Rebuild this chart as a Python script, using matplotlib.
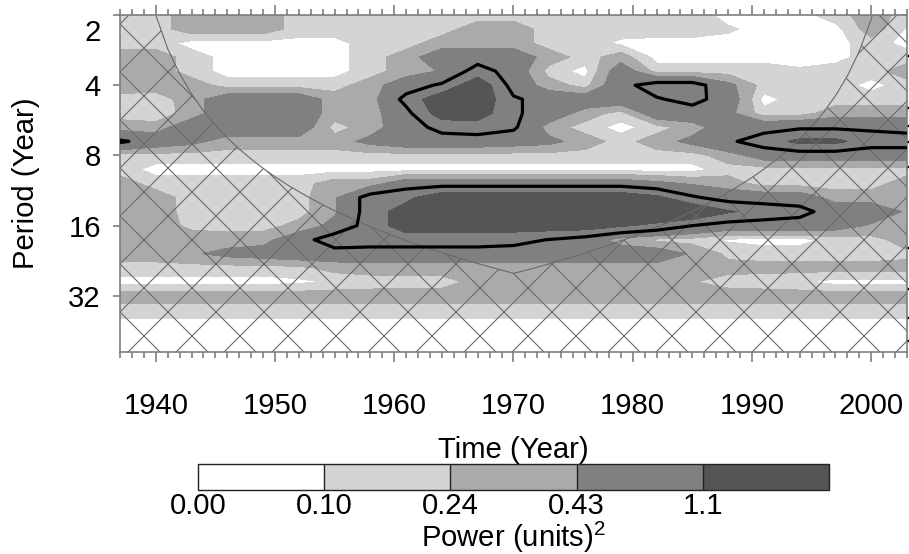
import numpy as np
import matplotlib
matplotlib.use("Agg")
import matplotlib.pyplot as plt
from matplotlib.ticker import NullLocator, FixedLocator
from matplotlib.transforms import ScaledTranslation

# ---------------- data ----------------
years = np.arange(1937, 2004, 3)                 # 23 time columns
period_octaves = np.linspace(1.0, 5.8, 25)       # log2(period) grid rows
periods = 2.0 ** period_octaves

# wavelet power (rows = periods from 2 yr downward, columns = years)
power = np.array([
    [.17,.17,.33,.33,.33,.17,.17,.17,.17,.17,.17,.17,.17,.17,.17,.17,.17,.05,.05,.05,.17,.33,.17],
    [.17,.17,.33,.33,.33,.17,.17,.17,.17,.17,.33,.33,.17,.17,.17,.17,.17,.12,.05,.05,.05,.33,.08],
    [.17,.17,.05,.05,.05,.05,.05,.17,.17,.33,.33,.33,.17,.17,.07,.05,.05,.05,.05,.05,.05,.17,.05],
    [.33,.33,.17,.05,.05,.05,.05,.17,.33,.60,.60,.60,.33,.17,.33,.05,.05,.05,.05,.05,.05,.17,.17],
    [.33,.33,.17,.05,.05,.05,.05,.17,.33,.45,.90,.60,.17,.05,.60,.17,.17,.17,.17,.12,.17,.17,.33],
    [.33,.33,.33,.17,.17,.17,.17,.33,.60,.80,1.4,.60,.33,.17,.65,.90,.90,.50,.17,.17,.17,.05,.17],
    [.17,.15,.33,.60,.60,.60,.33,.33,.85,1.4,1.4,.80,.60,.60,.60,.72,.85,.60,.05,.17,.17,.17,.17],
    [.17,.12,.33,.60,.60,.60,.33,.33,.65,1.3,1.3,.80,.60,.33,.17,.60,.60,.50,.15,.17,.33,.33,.33],
    [.33,.33,.60,.60,.60,.60,.17,.33,.60,.85,.90,.80,.33,.17,.05,.17,.33,.60,.65,.70,.70,.70,.65],
    [.80,.60,.50,.33,.33,.33,.33,.50,.60,.60,.60,.55,.50,.33,.17,.33,.50,.70,.90,1.2,1.2,.90,.90],
    [.17,.17,.17,.17,.17,.17,.17,.17,.17,.17,.17,.17,.17,.17,.17,.17,.17,.33,.55,.55,.55,.55,.55],
    [.17,.05,.05,.05,.05,.05,.05,.05,.05,.05,.05,.05,.05,.05,.05,.05,.05,.17,.17,.17,.17,.17,.17],
    [.33,.17,.17,.17,.17,.17,.33,.33,.60,.60,.60,.60,.60,.60,.60,.50,.40,.33,.17,.17,.17,.17,.33],
    [.33,.33,.17,.17,.17,.17,.40,.90,1.0,1.4,1.4,1.4,1.4,1.4,1.4,1.2,.80,.60,.60,.60,.33,.33,.33],
    [.33,.33,.17,.17,.17,.17,.40,.90,1.3,1.5,1.5,1.5,1.5,1.5,1.5,1.5,1.5,1.15,.95,.85,.60,.60,.40],
    [.33,.33,.20,.17,.17,.30,.50,.90,1.3,1.3,1.3,1.3,1.3,1.3,1.15,1.0,.75,.60,.60,.60,.55,.40,.33],
    [.33,.33,.33,.33,.35,.60,.95,.90,.90,.90,.90,.85,.74,.60,.33,.20,.17,.08,.05,.05,.15,.17,.33],
    [.33,.33,.40,.50,.55,.60,.60,.60,.60,.60,.60,.60,.60,.60,.60,.60,.40,.20,.17,.17,.17,.17,.20],
    [.17,.17,.17,.17,.17,.20,.30,.33,.33,.33,.33,.33,.33,.33,.33,.33,.33,.30,.30,.30,.30,.30,.30],
    [.05,.05,.05,.05,.05,.07,.12,.15,.17,.17,.30,.30,.30,.30,.30,.30,.25,.17,.15,.12,.05,.05,.05],
    [.33,.33,.33,.33,.33,.33,.33,.33,.33,.33,.33,.33,.33,.33,.33,.33,.33,.33,.33,.33,.33,.33,.33],
    [.17,.17,.17,.17,.17,.17,.17,.17,.17,.17,.17,.17,.17,.17,.17,.17,.17,.17,.17,.17,.17,.17,.17],
    [.05,.05,.05,.05,.05,.05,.05,.05,.05,.05,.05,.05,.05,.05,.05,.05,.05,.05,.05,.05,.05,.05,.05],
    [.04,.04,.04,.04,.04,.04,.04,.04,.04,.04,.04,.04,.04,.04,.04,.04,.04,.04,.04,.04,.04,.04,.04],
    [.04,.04,.04,.04,.04,.04,.04,.04,.04,.04,.04,.04,.04,.04,.04,.04,.04,.04,.04,.04,.04,.04,.04],
])

signif_95 = 0.75                                  # 95% significance power level

levels = [0.0, 0.10, 0.24, 0.43, 1.1, 10.0]
level_labels = ["0.00", "0.10", "0.24", "0.43", "1.1"]
shades = ["#ffffff", "#d4d4d4", "#aaaaaa", "#808080", "#555555"]

# cone of influence (period in years) for each year 1937..2003
coi_years = np.arange(1937, 2004)
coi_period = [0.10, 0.42, 1.21, 2.00, 2.79, 3.57, 4.36, 5.15, 5.93, 6.72,
              7.51, 8.29, 9.08, 9.87, 10.66, 11.44, 12.23, 13.02, 13.80, 14.59,
              15.38, 16.16, 16.95, 17.74, 18.53, 19.31, 20.10, 20.89, 21.67, 22.46,
              23.25, 24.03, 24.82, 25.61, 24.90, 24.11, 23.33, 22.54, 21.75, 20.97,
              20.18, 19.39, 18.60, 17.82, 17.03, 16.24, 15.46, 14.67, 13.88, 13.10,
              12.31, 11.52, 10.73, 9.95, 9.16, 8.37, 7.59, 6.80, 6.01, 5.23,
              4.44, 3.65, 2.86, 2.08, 1.29, 0.50, 0.10]

x_major = [1940, 1950, 1960, 1970, 1980, 1990, 2000]
y_ticks = [2, 4, 8, 16, 32]

# ---------------- style ----------------
DPI = 288
FS = 7.3
GRAY = "#7a7a7a"
plt.rcParams["font.family"] = ["Liberation Sans", "DejaVu Sans"]
plt.rcParams["mathtext.fontset"] = "custom"
plt.rcParams["mathtext.rm"] = "Liberation Sans"
plt.rcParams["mathtext.it"] = "Liberation Sans:italic"
plt.rcParams["hatch.linewidth"] = 0.28
plt.rcParams["hatch.color"] = "#6a6a6a"

fig = plt.figure(figsize=(909 / DPI, 554 / DPI), dpi=DPI)
ax = fig.add_axes([0.1320, 0.3646, 0.8658, 0.6083])

cf = ax.contourf(years, periods, power, levels=levels, colors=shades, zorder=1)
ax.fill_between(coi_years, coi_period, 100, facecolor="none", edgecolor="#6a6a6a",
                hatch="xx", linewidth=0, zorder=2)
ax.plot(coi_years, coi_period, color="#6a6a6a", lw=0.28, zorder=2)
ax.contour(years, periods, power / signif_95, levels=[1.0], colors="k",
           linewidths=0.8, zorder=3)

ax.set_yscale("log", base=2)
ax.set_ylim(periods[-1], 2)
ax.set_xlim(1937, 2003)

ax.set_yticks(y_ticks)
ax.set_yticklabels([str(v) for v in y_ticks])
ax.yaxis.set_minor_locator(NullLocator())
ax.set_xticks(x_major)
ax.set_xticklabels([str(v) for v in x_major])
ax.xaxis.set_minor_locator(FixedLocator(list(range(1937, 2004))))

for s in ax.spines.values():
    s.set_color(GRAY)
    s.set_linewidth(0.4)

ax.tick_params(axis="x", which="major", direction="out", length=2.5, width=0.4,
               color=GRAY, top=True, bottom=True, labelsize=FS, pad=7.6)
ax.tick_params(axis="x", which="minor", direction="out", length=1.5, width=0.4,
               color=GRAY, top=True, bottom=True)
ax.tick_params(axis="y", which="major", direction="out", length=1.8, width=0.4,
               color=GRAY, left=True, right=False, labelsize=FS, pad=3)
ax.set_xlabel("Time (Year)", fontsize=FS, labelpad=4)
ax.set_ylabel("Period (Year)", fontsize=FS, labelpad=7)

# nudge the top label "2" down inside the frame, as in the original
lab2 = ax.yaxis.get_major_ticks()[0].label1
lab2.set_transform(lab2.get_transform() + ScaledTranslation(0, -15 / DPI, fig.dpi_scale_trans))

# right-hand inward ticks
axr = ax.secondary_yaxis("right")
axr.set_yticks(y_ticks)
axr.tick_params(direction="in", length=1.5, width=0.4, color=GRAY, labelright=False)
axr.spines["right"].set_visible(False)

# ---------------- colour bar ----------------
cax = fig.add_axes([0.2178, 0.1155, 0.6942, 0.0469])
cb = fig.colorbar(cf, cax=cax, orientation="horizontal", spacing="uniform", drawedges=True)
cb.set_ticks(levels[:-1])
cb.set_ticklabels(level_labels)
cb.outline.set_linewidth(0.35)
cb.outline.set_edgecolor("#222222")
cb.dividers.set_linewidth(0.35)
cb.dividers.set_color("#222222")
cax.tick_params(length=0, pad=0.5, labelsize=FS)
cb.set_label("Power (units)$^2$", fontsize=FS, labelpad=0)

fig.savefig("out.png", dpi=DPI)
